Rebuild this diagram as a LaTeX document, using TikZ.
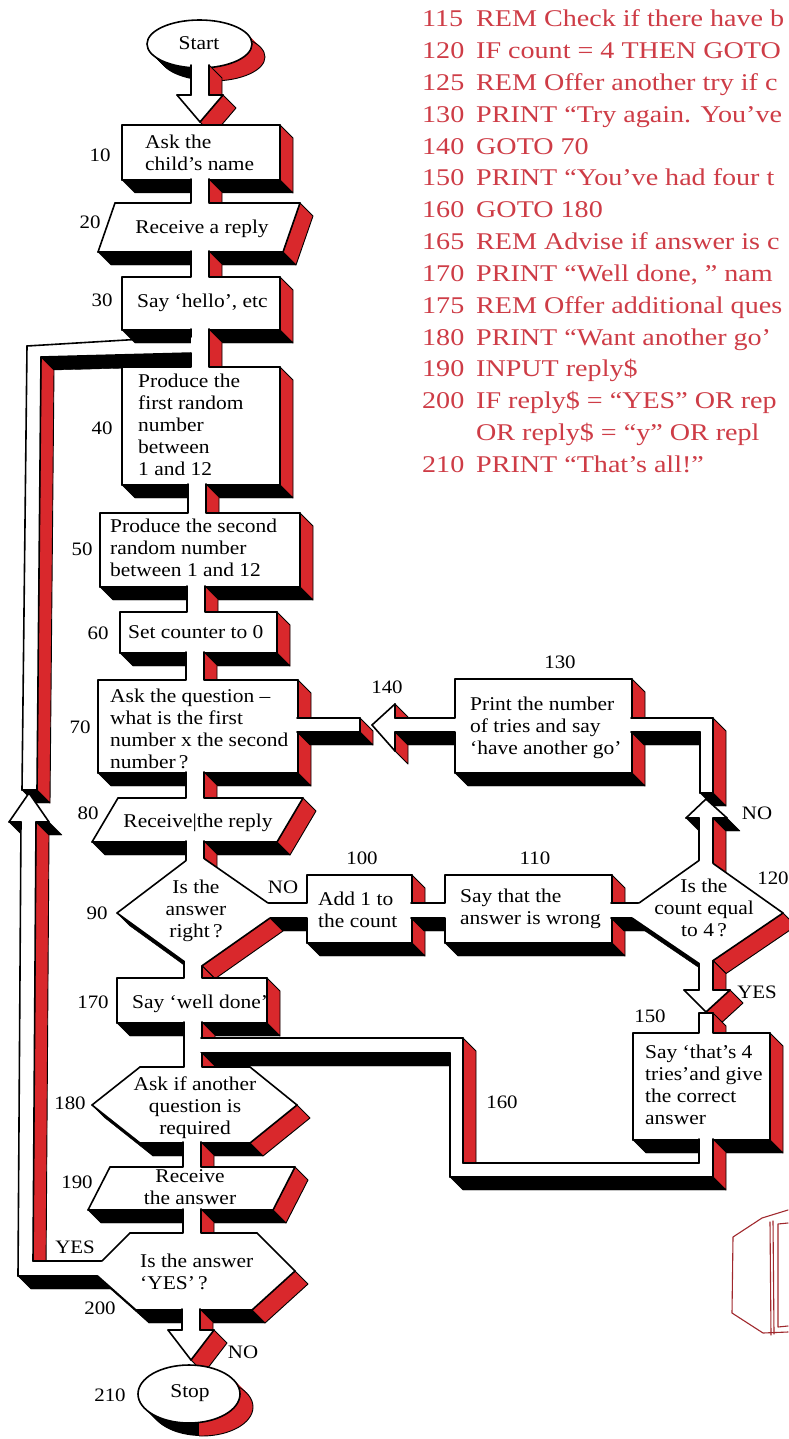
\documentclass[tikz,border=0pt]{standalone}
\usepackage{fontspec}
\newfontfamily\dgfont[FakeStretch=1.1]{Liberation Serif}
\newfontfamily\lstfont[FakeStretch=1.17]{Liberation Serif}
\definecolor{fred}{RGB}{217,40,44}
\definecolor{lstred}{RGB}{206,60,70}
\definecolor{sketchred}{RGB}{160,40,45}

\tikzset{
  edge/.style={draw=black,line width=1.6pt,line cap=round,line join=round},
  redface/.style={fill=fred,draw=black,line width=0.9pt,line join=round},
  blackface/.style={fill=black,draw=black,line width=0.4pt,line join=round},
  txt/.style={font=\dgfont\fontsize{19.5}{22}\selectfont,inner sep=0pt,anchor=north west,align=left},
  ctxt/.style={txt,anchor=north,align=center},
  lbl/.style={font=\dgfont\fontsize{19}{22}\selectfont,inner sep=0pt},
  lst/.style={font=\lstfont\fontsize{24}{30}\selectfont,text=lstred,inner sep=0pt,anchor=base west},
  sketch/.style={draw=sketchred,line width=1.1pt,line cap=round,line join=round},
}

\newcommand\tstrut{\rule{0pt}{14pt}}
\newcommand\sldD{13}

% one side face of an extruded edge (x1,y1)->(x2,y2); flag 1 = face allowed
\newcommand\sldface[5]{%
  \ifnum#5=1\relax
    \pgfmathparse{((#4)-(#2))-((#3)-(#1))}\let\sldvis\pgfmathresult
    \pgfmathparse{(#4)-(#2)-0.3*abs((#1)-(#3))}\let\sldred\pgfmathresult
    \ifdim\sldvis pt>0.5pt\relax
      \ifdim\sldred pt>0pt\relax
        \filldraw[redface] (#1,#2) -- (#3,#4) -- ([shift={(\sldD,\sldD)}]#3,#4) -- ([shift={(\sldD,\sldD)}]#1,#2) -- cycle;
      \else
        \filldraw[blackface] (#1,#2) -- (#3,#4) -- ([shift={(\sldD,\sldD)}]#3,#4) -- ([shift={(\sldD,\sldD)}]#1,#2) -- cycle;
      \fi
    \fi
  \fi}
% outline of an edge; flag 0 = open joint
\newcommand\sldline[5]{\ifnum#5>0\relax\draw[edge] (#1,#2) -- (#3,#4);\fi}
% run a command over all edges of the current vertex list
\newcommand\sldloop[1]{%
  \foreach \vX/\vY/\vF [count=\vI] in \sldlist {%
    \ifnum\vI=1\relax
      \xdef\sldFX{\vX}\xdef\sldFY{\vY}\xdef\sldPath{(\vX,\vY)}%
    \else
      #1{\sldPX}{\sldPY}{\vX}{\vY}{\sldPF}%
      \xdef\sldPath{\sldPath -- (\vX,\vY)}%
    \fi
    \xdef\sldPX{\vX}\xdef\sldPY{\vY}\xdef\sldPF{\vF}%
  }%
  #1{\sldPX}{\sldPY}{\sldFX}{\sldFY}{\sldPF}%
}
% extruded block: side faces, white front, outline
\newcommand\solid[1]{%
  \def\sldlist{#1}%
  \sldloop\sldface
  \edef\sldcmd{\noexpand\fill[white] \sldPath -- cycle;}\sldcmd
  \sldloop\sldline}
% extruded oval (terminal)
\newcommand\solidoval[4]{%
  \begin{scope}
    \clip (#1+10,-10) rectangle (-10,1500);
    \foreach \t in {0,1,...,13} {\fill[black] (#1+\t,#2+\t) ellipse [x radius=#3pt, y radius=#4pt];}
  \end{scope}
  \begin{scope}
    \clip (#1+10,-10) rectangle (900,1500);
    \foreach \t in {0,1,...,13} {\fill[fred] (#1+\t,#2+\t) ellipse [x radius=#3pt, y radius=#4pt];}
    \draw[black,line width=0.9pt] (#1+13,#2+13) ellipse [x radius=#3pt, y radius=#4pt];
  \end{scope}
  \filldraw[fill=white,edge] (#1,#2) ellipse [x radius=#3pt, y radius=#4pt];
}

\begin{document}
\begin{tikzpicture}[x=1pt,y=-1pt]
\useasboundingbox (0,0) rectangle (788,1439);
\fill[white] (0,0) rectangle (788,1439);

% ---------- program listing ----------
\node[lst] (l115) at (422,27)    {\makebox[54pt][l]{115}REM Check if there have b};
\node[lst] (l120) at (422,58.8)  {\makebox[54pt][l]{120}IF count = 4 THEN GOTO};
\node[lst] (l125) at (422,90.6)  {\makebox[54pt][l]{125}REM Offer another try if c};
\node[lst] (l130) at (422,122.4) {\makebox[54pt][l]{130}PRINT “Try again. You’ve};
\node[lst] (l140) at (422,154.2) {\makebox[54pt][l]{140}GOTO 70};
\node[lst] (l150) at (422,186)   {\makebox[54pt][l]{150}PRINT “You’ve had four t};
\node[lst] (l160) at (422,217.8) {\makebox[54pt][l]{160}GOTO 180};
\node[lst] (l165) at (422,249.6) {\makebox[54pt][l]{165}REM Advise if answer is c};
\node[lst] (l170) at (422,281.4) {\makebox[54pt][l]{170}PRINT “Well done, ” nam};
\node[lst] (l175) at (422,313.2) {\makebox[54pt][l]{175}REM Offer additional ques};
\node[lst] (l180) at (422,345)   {\makebox[54pt][l]{180}PRINT “Want another go’};
\node[lst] (l190) at (422,376.8) {\makebox[54pt][l]{190}INPUT reply\$};
\node[lst] (l200) at (422,408.6) {\makebox[54pt][l]{200}IF reply\$ = “YES” OR rep};
\node[lst] (l200b) at (422,440.4){\makebox[54pt][l]{}OR reply\$ = “y” OR repl};
\node[lst] (l210) at (422,472.2) {\makebox[54pt][l]{210}PRINT “That’s all!”};

% ---------- YES loop from 200 back to 40 ----------
\solid{27/346/1, 193/336/0, 193/353/1, 41/357/1, 37/790/1, 22/790/1}
\solid{29/793/2, 49/822/1, 36/822/1, 33/1261/1, 105/1261/0, 105/1276/1, 18/1276/1, 21/822/1, 9/822/2}

% ---------- main column ----------
\solidoval{199.5}{44}{52.5}{24}
\node[lbl,font=\dgfont\fontsize{19.5}{22}\selectfont] (start) at (199,43) {Start};
\solid{191/65/0, 209/65/1, 209/95/1, 223/95/1, 200/122/1, 177/95/1, 191/95/1}

\solid{122/125/1, 280/125/1, 280/180/1, 122/180/1}
\node[txt] (t10) at (145,134.5) {\tstrut Ask the\\child’s name};
\solid{191/179/0, 209/179/1, 209/204/0, 191/204/1}
\solid{115/203/1, 191/203/0, 209/203/1, 300/203/1, 283/252/1, 98/252/1}
\node[ctxt] (t20) at (202,219.5) {\tstrut Receive a reply};
\solid{191/251/0, 209/251/1, 209/278/0, 191/278/1}
\solid{122/277/1, 191/277/0, 209/277/1, 280/277/1, 280/330/1, 122/330/1}
\node[txt] (t30) at (137,293.5) {\tstrut Say ‘hello’, etc};
\solid{191/329/0, 209/329/1, 209/368/0, 191/368/1, 191/353/0, 191/337/1}
\solid{122/367/1, 191/367/0, 209/367/1, 280/367/1, 280/485/1, 122/485/1}
\node[txt] (t40) at (138,373.5) {\tstrut Produce the\\first random\\number\\between\\1 and 12};
\solid{188/484/0, 206/484/1, 206/514/0, 188/514/1}
\solid{100/513/1, 188/513/0, 206/513/1, 300/513/1, 300/587/1, 100/587/1}
\node[txt] (t50) at (110,518.5) {\tstrut Produce the second\\random number\\between 1 and 12};
\solid{187/586/0, 205/586/1, 205/613/0, 187/613/1}
\solid{120/612/1, 187/612/0, 205/612/1, 277/612/1, 277/653/1, 120/653/1}
\node[txt] (t60) at (128,624.5) {\tstrut Set counter to 0};
\solid{186/652/0, 204/652/1, 204/681/0, 186/681/1}
\solid{98/680/1, 186/680/0, 204/680/1, 298/680/1, 298/773/1, 98/773/1}
\node[txt] (t70) at (110,688.5) {\tstrut Ask the question –\\what is the first\\number x the second\\number\,?};

% ---------- 130 / 140 branch back to 70 ----------
\solid{297/718/1, 360/718/1, 360/732/1, 297/732/0}
\solid{372/725/2, 395/704/1, 395/718/1, 456/718/0, 456/732/1, 395/732/1, 395/751/2}
\solid{455/679/1, 632/679/1, 632/773/1, 455/773/1, 455/732/0, 455/718/1}
\node[txt] (t130) at (470,696.5) {\tstrut Print the number\\of tries and say\\‘have another go’};
\solid{631/718/1, 713/718/1, 713/793/1, 700/793/1, 700/732/1, 631/732/0}

% ---------- 80 / 90 ----------
\solid{186/772/0, 204/772/1, 204/799/0, 186/799/1}
\solid{118/798/1, 186/798/0, 204/798/1, 303/798/1, 277/842/1, 92/842/1}
\node[ctxt] (t80) at (198,813.5) {\tstrut Receive|the reply};
\solid{186/841/0, 204/841/1, 204/862/0, 186/862/1}
\solid{262/903/1, 308/903/0, 308/918/1, 262/918/0}
\solid{117/913/1, 186/860.6/0, 204/858.5/1, 268/903/0, 270/918/1, 202/965.8/0, 184/961.4/1}
\node[ctxt] (t90) at (196,879.5) {\tstrut Is the\\answer\\right\,?};
\solid{184/961.4/0, 202/965.8/1, 202/979/0, 184/979/1}

% ---------- 100 / 110 / 120 ----------
\solid{307/875/1, 412/875/1, 412/943/1, 307/943/1, 307/918/0, 307/903/1}
\node[txt] (t100) at (318,891.5) {\tstrut Add 1 to\\the count};
\solid{411/903/1, 446/903/0, 446/918/1, 411/918/0}
\solid{445/875/1, 612/875/1, 612/943/1, 445/943/1, 445/918/0, 445/903/1}
\node[txt] (t110) at (460,888.5) {\tstrut Say that the\\answer is wrong};
\solid{611/903/1, 645/903/0, 645/918/1, 611/918/0}
\solid{706/799/2, 727/818/1, 713/818/1, 713/866/0, 699/866/1, 699/818/1, 686/818/2}
\solid{639/903/1, 699/860.5/0, 713/863.4/1, 783/913/1, 713/960.6/0, 699/963.5/1, 632/918/0}
\node[ctxt] (t120) at (704,878.5) {\tstrut Is the\\count equal\\to 4\,?};

% ---------- 150 ----------
\solid{699/963.5/0, 713/960.6/1, 713/990/1, 730/990/1, 706/1012/1, 684/990/1, 699/990/1}
\solid{699/1013/1, 713/1013/1, 713/1034/0, 699/1034/1}
\solid{633/1033/1, 699/1033/0, 713/1033/1, 770/1033/1, 770/1140/1, 633/1140/1}
\node[txt] (t150) at (645,1044.5) {\tstrut Say ‘that’s 4\\tries’and give\\the correct\\answer};

% ---------- 170 and the 160 return ----------
\solid{117/978/1, 184/978/0, 202/978/1, 267/978/1, 267/1023/1, 117/1023/1}
\node[txt] (t170) at (132,994.5) {\tstrut Say ‘well done’};
\solid{184/1022/0, 202/1022/1, 202/1068/0, 184/1068/1}
\solid{201/1038/1, 463/1038/1, 463/1163/1, 699/1163/1, 699/1139/0, 713/1139/1, 713/1177/1, 450/1177/1, 450/1053/1, 201/1053/0}
\solid{184/1053/0, 202/1053/1, 202/1068/0, 184/1068/1}

% ---------- 180 / 190 / 200 / 210 ----------
\solid{92/1105/1, 140/1067/1, 184/1067/0, 202/1067/1, 250/1067/1, 297/1105/1, 250/1143/1, 140/1143/1}
\node[ctxt] (t180) at (195,1076.5) {\tstrut Ask if another\\question is\\required};
\solid{183/1142/0, 201/1142/1, 201/1168/0, 183/1168/1}
\solid{110/1167/1, 183/1167/0, 201/1167/1, 295/1167/1, 273/1210/1, 88/1210/1}
\node[ctxt] (t190) at (190,1168.5) {\tstrut Receive\\the answer};
\solid{183/1209/0, 201/1209/1, 201/1234/0, 183/1234/1}
\solid{102/1261/1, 130/1233/1, 183/1233/0, 201/1233/1, 257/1233/1, 295/1271/1, 252/1310/1, 136/1310/1, 97.6/1276/0}
\node[txt] (t200) at (140,1253.5) {\tstrut Is the answer\\‘YES’\,?};
\solid{182/1309/0, 200/1309/1, 200/1330/1, 214/1330/1, 191/1360/1, 168/1330/1, 182/1330/1}
\solidoval{189}{1394}{51}{29}
\node[lbl,font=\dgfont\fontsize{19.5}{22}\selectfont] (stop) at (190,1393) {Stop};

% ---------- line numbers and branch labels ----------
\node[lbl] (n10)  at (100,155)  {10};
\node[lbl] (n20)  at (90,222)   {20};
\node[lbl] (n30)  at (102,300)  {30};
\node[lbl] (n40)  at (102,428)  {40};
\node[lbl] (n50)  at (82,549)   {50};
\node[lbl] (n60)  at (98,633)   {60};
\node[lbl] (n70)  at (80,727)   {70};
\node[lbl] (n80)  at (88,813)   {80};
\node[lbl] (n90)  at (97,913)   {90};
\node[lbl] (n100) at (362,858)  {100};
\node[lbl] (n110) at (535,858)  {110};
\node[lbl] (n120) at (773,878)  {120};
\node[lbl] (n130) at (560,662)  {130};
\node[lbl] (n140) at (387,687)  {140};
\node[lbl] (n150) at (650,1016) {150};
\node[lbl] (n160) at (502,1102) {160};
\node[lbl] (n170) at (93,1002)  {170};
\node[lbl] (n180) at (70,1103)  {180};
\node[lbl] (n190) at (77,1182)  {190};
\node[lbl] (n200) at (100,1308) {200};
\node[lbl] (n210) at (110,1395) {210};
\node[lbl] (no90)  at (283,887)  {NO};
\node[lbl] (no120) at (757,813)  {NO};
\node[lbl] (yes120) at (757,992) {YES};
\node[lbl] (yes200) at (75,1247) {YES};
\node[lbl] (no200) at (243,1352) {NO};

% ---------- corner of a computer sketch ----------
\draw[sketch] (788,1210) -- (762,1218) -- (733,1237) -- (732,1313) -- (763,1333) -- (788,1332);
\draw[sketch] (770,1222) -- (771,1335);
\draw[sketch] (773,1221) -- (774,1334);
\draw[sketch] (788,1223) -- (778,1224) -- (778,1327) -- (788,1326);
\end{tikzpicture}
\end{document}
